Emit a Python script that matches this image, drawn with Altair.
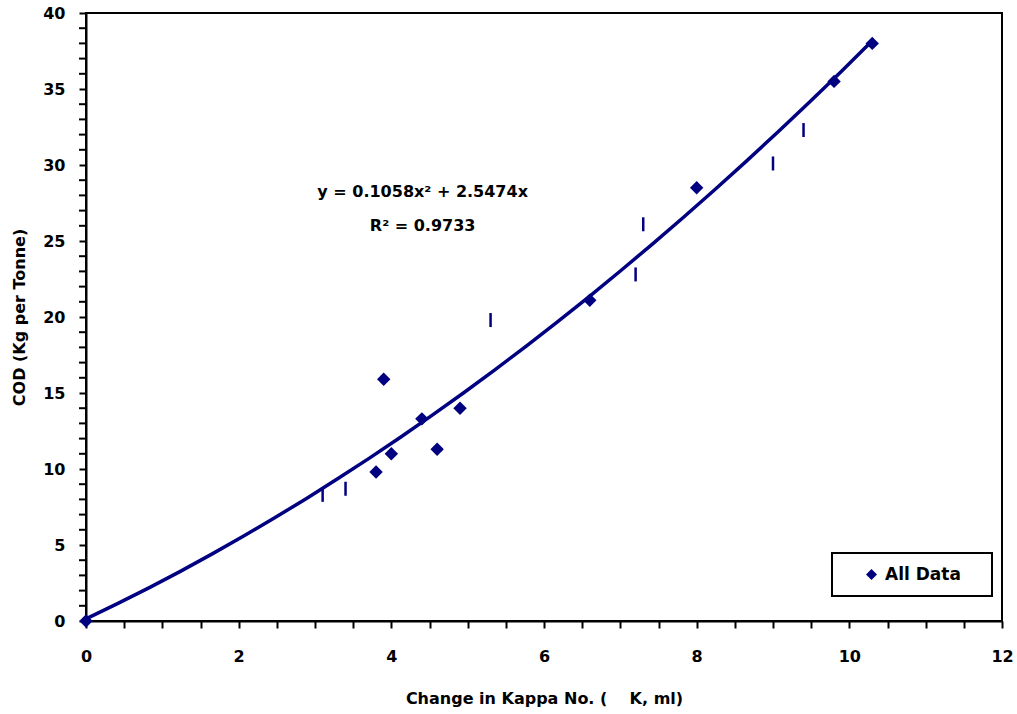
import altair as alt
import pandas as pd

# Diamond series ("All Data")
x_all = [0.0, 3.8, 3.9, 4.0, 4.4, 4.6, 4.9, 6.6, 8.0, 9.8, 10.3]
y_all = [0.0, 9.8, 15.9, 11.0, 13.3, 11.3, 14.0, 21.1, 28.5, 35.5, 38.0]

# Vertical dash markers
x_dash = [3.1, 3.4, 5.3, 7.2, 7.3, 9.0, 9.4]
y_dash = [8.3, 8.7, 19.8, 22.8, 26.1, 30.1, 32.3]

# Equation annotation
eq_text = ["y = 0.1058x\u00b2 + 2.5474x", "R\u00b2 = 0.9733"]
eq_x = [4.41, 4.41]
eq_y = [28.2, 26.0]

x_ticks = [i * 0.5 for i in range(25)]
y_major = [0, 5, 10, 15, 20, 25, 30, 35, 40]
y_minor = [i for i in range(0, 41) if i % 5 != 0]

NAVY = "#000080"
FONT = "DejaVu Sans"

df_all = pd.DataFrame({"x": x_all, "y": y_all, "series": ["All Data"] * len(x_all)})
df_dash = pd.DataFrame({"x": x_dash, "y": y_dash})
df_eq = pd.DataFrame({"x": eq_x, "y": eq_y, "t": eq_text})
df_minor = pd.DataFrame({"y": y_minor})

xs = alt.Scale(domain=[0, 12], nice=False, zero=False)
ys = alt.Scale(domain=[0, 40], nice=False, zero=False)

x_axis = alt.Axis(
    title="Change in Kappa No. (\u00a0\u00a0\u00a0\u00a0K, ml)",
    values=x_ticks,
    tickCount=200,
    labelExpr="datum.value % 2 === 0 ? format(datum.value, 'd') : ''",
    labelOverlap=False,
    labelFlush=False,
    grid=False,
    tickSize=7,
    labelPadding=20,
    titlePadding=26,
)
y_axis = alt.Axis(
    title="COD (Kg per Tonne)",
    values=y_major,
    tickCount=200,
    format="d",
    labelOverlap=False,
    labelFlush=False,
    grid=False,
    tickSize=7,
    labelPadding=14,
    titlePadding=15,
)

trend = (
    alt.Chart(df_all)
    .transform_regression("x", "y", method="poly", order=2)
    .mark_line(color=NAVY, strokeWidth=3.5)
    .encode(x=alt.X("x:Q", scale=xs, axis=x_axis), y=alt.Y("y:Q", scale=ys, axis=y_axis))
)

minor = (
    alt.Chart(df_minor)
    .mark_rule(color="black", strokeWidth=2)
    .encode(x=alt.value(-7), x2=alt.value(0), y=alt.Y("y:Q", scale=ys))
)

pts = (
    alt.Chart(df_all)
    .mark_point(shape="diamond", filled=True, size=180, opacity=1)
    .encode(
        x=alt.X("x:Q", scale=xs),
        y=alt.Y("y:Q", scale=ys),
        color=alt.Color(
            "series:N",
            scale=alt.Scale(domain=["All Data"], range=[NAVY]),
            legend=alt.Legend(
                title=" ",
                titleOrient="right",
                titlePadding=18,
                orient="none",
                legendX=746,
                legendY=540,
                padding=13,
                symbolOffset=18,
                symbolType="diamond",
                symbolSize=120,
                labelOffset=5,
                strokeColor="black",
            ),
        ),
    )
)

dash = (
    alt.Chart(df_dash)
    .mark_point(shape="M0,-1L0,1", filled=False, size=196, strokeWidth=2.5, color=NAVY, opacity=1)
    .encode(x=alt.X("x:Q", scale=xs), y=alt.Y("y:Q", scale=ys))
)

eq = (
    alt.Chart(df_eq)
    .mark_text(font=FONT, fontSize=16, fontWeight="bold", color="black")
    .encode(x=alt.X("x:Q", scale=xs), y=alt.Y("y:Q", scale=ys), text="t:N")
)

chart = (
    alt.layer(trend, minor, dash, pts, eq)
    .properties(
        width=916,
        height=608,
        autosize=alt.AutoSizeParams(type="none"),
        padding={"left": 86, "top": 13, "right": 15, "bottom": 93},
    )
    .configure_view(stroke="black", strokeWidth=2)
    .configure_axis(
        labelFont=FONT,
        labelFontSize=16,
        labelFontWeight="bold",
        labelColor="black",
        titleFont=FONT,
        titleFontSize=16,
        titleFontWeight="bold",
        titleColor="black",
        domainColor="black",
        domainWidth=2,
        tickColor="black",
        tickWidth=2,
    )
    .configure_legend(
        labelFont=FONT,
        labelFontSize=17,
        labelFontWeight="bold",
        labelColor="black",
        titleFont=FONT,
        titleFontSize=17,
        strokeWidth=2,
    )
)

chart.save("out.html", embed_options={"renderer": "svg", "actions": False})
